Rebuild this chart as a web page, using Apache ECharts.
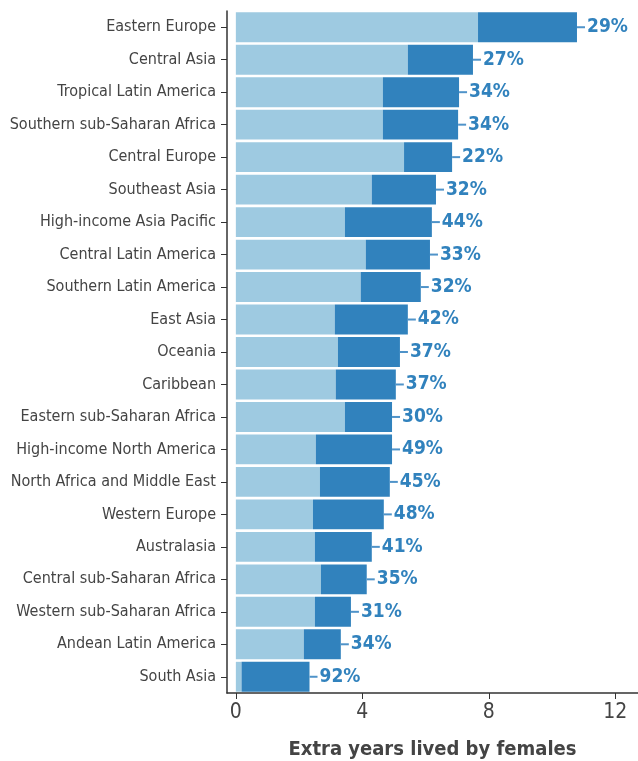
<!DOCTYPE html>
<html>
<head>
<meta charset="utf-8">
<script src="https://cdn.jsdelivr.net/npm/echarts@6/dist/echarts.min.js"></script>
<style>html,body{margin:0;padding:0;background:#fff;}#c{width:638px;height:761px;}</style>
</head>
<body>
<div id="c"></div>
<script>
const regions = ["Eastern Europe","Central Asia","Tropical Latin America","Southern sub-Saharan Africa","Central Europe","Southeast Asia","High-income Asia Pacific","Central Latin America","Southern Latin America","East Asia","Oceania","Caribbean","Eastern sub-Saharan Africa","High-income North America","North Africa and Middle East","Western Europe","Australasia","Central sub-Saharan Africa","Western sub-Saharan Africa","Andean Latin America","South Asia"];
const baseYears = [7.66,5.44,4.65,4.65,5.32,4.30,3.45,4.11,3.95,3.13,3.23,3.16,3.45,2.53,2.66,2.44,2.50,2.69,2.50,2.15,0.18];
const extraYears = [3.13,2.06,2.41,2.38,1.52,2.03,2.75,2.03,1.90,2.31,1.96,1.90,1.49,2.41,2.21,2.24,1.80,1.45,1.14,1.17,2.15];
const pctLabels = ["29%","27%","34%","34%","22%","32%","44%","33%","32%","42%","37%","37%","30%","49%","45%","48%","41%","35%","31%","34%","92%"];
const xTicks = [0,4,8,12];

const FONT = '"Liberation Sans Narrow","DejaVu Sans Condensed","Roboto Condensed",sans-serif';
const chart = echarts.init(document.getElementById('c'));
chart.setOption({
  animation: false,
  backgroundColor: '#fff',
  grid: {left: 227, right: 0, top: 11, bottom: 68, containLabel: false, outerBoundsMode: 'none'},
  xAxis: {
    type: 'value', min: -0.28, max: 12.72,
    axisLine: {show: true, onZero: false, lineStyle: {color: '#333', width: 1.5}},
    axisTick: {show: true, customValues: xTicks, length: 6, lineStyle: {color: '#333'}},
    axisLabel: {customValues: xTicks, fontFamily: FONT, fontSize: 21, color: '#444', margin: 9},
    splitLine: {show: false},
    name: 'Extra years lived by females', nameLocation: 'middle', nameGap: 47,
    nameTextStyle: {fontFamily: FONT, fontSize: 20, fontWeight: 'bold', color: '#444'}
  },
  yAxis: {
    type: 'category', data: regions, inverse: true,
    axisLine: {show: true, onZero: false, lineStyle: {color: '#333', width: 1.5}},
    axisTick: {show: true, length: 6, alignWithLabel: true, lineStyle: {color: '#333'}},
    axisLabel: {fontFamily: FONT, fontSize: 16, color: '#444', margin: 11}
  },
  series: [
    {type: 'bar', stack: 'a', data: baseYears, barCategoryGap: '8%',
     itemStyle: {color: '#9ecae1'}, silent: true},
    {type: 'bar', stack: 'a', data: extraYears, barCategoryGap: '8%',
     itemStyle: {color: '#3182bd'}, silent: true,
     label: {show: true, position: 'right', distance: 0,
       formatter: p => '{l|}{t|' + pctLabels[p.dataIndex] + '}',
       rich: {
         l: {width: 8, height: 2, backgroundColor: '#4f93c9'},
         t: {fontFamily: FONT, fontSize: 19, fontWeight: 'bold', color: '#3182bd', padding: [0,0,0,2]}
       }}}
  ]
});
</script>
</body>
</html>
